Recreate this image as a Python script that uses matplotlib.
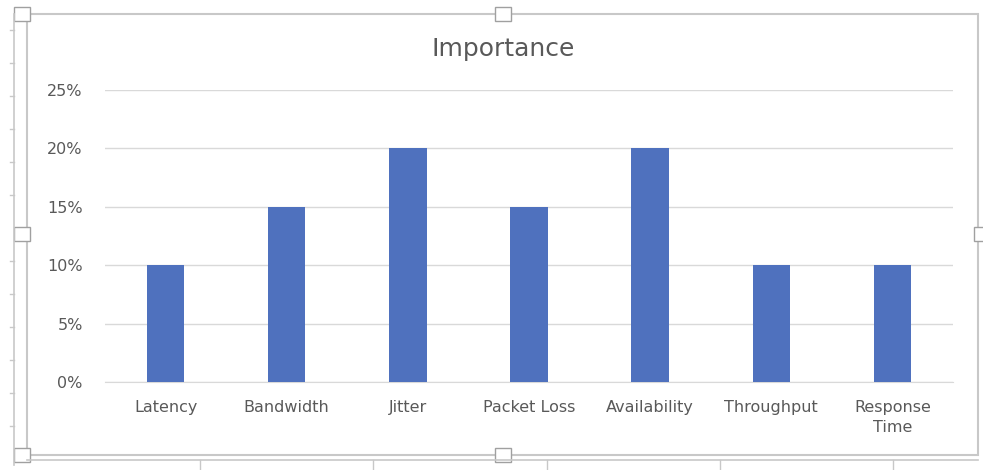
import matplotlib.pyplot as plt
from matplotlib.patches import Rectangle
from matplotlib.lines import Line2D
from matplotlib.ticker import PercentFormatter

plt.rcParams['font.family'] = ['DejaVu Sans']

# Datos
categorias = ['Latency', 'Bandwidth', 'Jitter', 'Packet Loss',
              'Availability', 'Throughput', 'Response\nTime']
importancia = [10, 15, 20, 15, 20, 10, 10]
yticks = [0, 5, 10, 15, 20, 25]

W, H = 983, 470
fig = plt.figure(figsize=(W / 100, H / 100), dpi=100)
ax = fig.add_axes([105 / W, 1 - 382 / H, (953 - 105) / W, (382 - 90) / H])

gris_txt = '#595959'
ax.bar(range(len(categorias)), importancia, width=0.31, color='#4F71BE', zorder=3)
ax.set_xlim(-0.5, len(categorias) - 0.5)
ax.set_ylim(0, 25)
ax.set_yticks(yticks)
ax.yaxis.set_major_formatter(PercentFormatter(decimals=0))
ax.set_xticks(range(len(categorias)))
ax.set_xticklabels(categorias, linespacing=1.4)
ax.grid(axis='y', color='#d9d9d9', linewidth=1, zorder=0)
for s in ['top', 'right', 'left']:
    ax.spines[s].set_visible(False)
ax.spines['bottom'].set_color('#d9d9d9')
ax.tick_params(length=0, colors=gris_txt, labelsize=11.5)
ax.tick_params(axis='y', pad=16)
ax.tick_params(axis='x', pad=13)
fig.text(503 / W, 1 - 49 / H, 'Importance', ha='center', va='center',
         fontsize=18, color=gris_txt)

# Marco del gráfico y asas de selección (captura de Excel)
def px(x, y):
    return x / W, 1 - y / H

borde = '#c8c8c8'
fig.add_artist(Rectangle(px(27, 455), 951 / W, 441 / H, fill=False,
                         edgecolor=borde, linewidth=1.5, transform=fig.transFigure))
fig.add_artist(Line2D([14 / W, 14 / W], [1 - 14 / H, 1 - 465 / H],
                      color=borde, linewidth=1.2, transform=fig.transFigure))
fig.add_artist(Line2D([27 / W, 978 / W], [1 - 460 / H, 1 - 460 / H],
                      color=borde, linewidth=1.2, transform=fig.transFigure))
for yy in [30, 63, 96, 129, 162, 195, 261, 294, 327, 360, 393, 426]:
    fig.add_artist(Line2D([10 / W, 14 / W], [1 - yy / H] * 2, color=borde,
                          linewidth=1, transform=fig.transFigure))
for xx in [200, 373, 547, 720, 893]:
    fig.add_artist(Line2D([xx / W] * 2, [1 - 460 / H, 0], color=borde,
                          linewidth=1, transform=fig.transFigure))
for hx, hy in [(22, 14), (503, 14), (22, 234), (982, 234), (22, 455), (503, 455)]:
    fig.add_artist(Rectangle(px(hx - 8, hy + 7), 16 / W, 14 / H, facecolor='white',
                             edgecolor='#a0a0a0', linewidth=1, transform=fig.transFigure))

fig.savefig('out.png', dpi=100)
